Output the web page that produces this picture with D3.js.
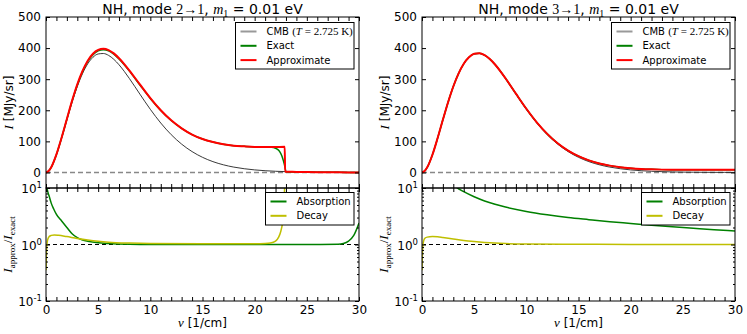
<!DOCTYPE html>
<html>
<head>
<meta charset="utf-8">
<script src="https://cdn.jsdelivr.net/npm/d3@7"></script>
<style>
  body { margin: 0; background: #fff; }
  svg { display: block; font-family: "DejaVu Sans", sans-serif; }
  .math { font-family: "Liberation Serif", serif; }
</style>
</head>
<body>
<svg id="chart" width="747" height="334"></svg>
<script>
// ---- data ----
const xTicks = [0, 5, 10, 15, 20, 25, 30];
const iTicks = [0, 100, 200, 300, 400, 500];
const ratioTicks = [0.1, 1, 10];

// CMB blackbody (MJy/sr) vs nu (1/cm), same in both panels
const nuCmb = [0, 0.25, 0.5, 1, 1.5, 2, 2.5, 3, 3.5, 4, 4.5, 5, 5.5, 6, 6.5, 7, 7.5, 8, 9, 10, 11, 12, 13, 14, 15, 16, 17, 18, 19, 20, 21, 22, 23, 24, 25, 26, 27, 28, 29, 30];
const cmb = [0, 4.4, 16.4, 57.0, 110.8, 169.3, 226, 276.5, 318, 349.5, 370.4, 381.1, 382.6, 376.5, 363.9, 346.3, 325.2, 301.8, 251.9, 203.0, 159.0, 121.6, 91.1, 67.1, 48.7, 34.8, 24.6, 17.2, 12.0, 8.2, 5.6, 3.8, 2.6, 1.7, 1.15, 0.76, 0.5, 0.33, 0.22, 0.14];

// left panel: mode 2 -> 1
const nuApproxL = [0, 0.25, 0.5, 1, 1.5, 2, 2.5, 3, 3.5, 4, 4.5, 5, 5.5, 6, 6.5, 7, 7.5, 8, 9, 10, 11, 12, 13, 14, 15, 16, 17, 18, 19, 20, 21, 22, 22.88, 22.92, 23, 24, 25, 26, 27, 28, 29, 30];
const approxL = [0, 4.5, 16.7, 58, 112.5, 172, 231, 283.5, 326.5, 359.5, 381.9, 394, 397.6, 393.5, 382.9, 367.3, 348.7, 327.8, 283, 239, 200, 167.6, 142, 122, 107.6, 97.8, 90.6, 86.2, 84, 82.2, 81.6, 81.8, 82.6, 2.6, 2.6, 1.7, 1.15, 0.76, 0.5, 0.33, 0.22, 0.14];
const nuExactL = [0, 0.25, 0.5, 1, 1.5, 2, 2.5, 3, 3.5, 4, 4.5, 5, 5.5, 6, 6.5, 7, 7.5, 8, 9, 10, 11, 12, 13, 14, 15, 16, 17, 18, 19, 20, 21, 21.6, 22, 22.2, 22.4, 22.6, 22.75, 22.9, 23, 24, 25, 26, 27, 28, 29, 30];
const exactL = [0, 4.5, 16.7, 58, 112, 171, 229.5, 281.5, 324, 357, 379, 391.5, 395, 391, 380.5, 365, 346.5, 326, 281.5, 238, 199.5, 167.2, 141.8, 121.9, 107.6, 97.8, 90.6, 86.2, 84, 82.2, 81.6, 81, 78, 74, 67, 54, 38, 18, 2.6, 1.7, 1.15, 0.76, 0.5, 0.33, 0.22, 0.14];

const nuAbsL = [0.05, 0.1, 0.3, 0.5, 0.75, 1, 1.5, 2, 2.5, 3, 3.5, 4, 5, 6, 8, 10, 15, 20, 25, 28, 28.5, 29, 29.5, 30];
const absL = [14, 10, 7.2, 5.4, 4.2, 3.4, 2.6, 2.0, 1.55, 1.32, 1.2, 1.14, 1.07, 1.04, 1.01, 1.0, 1.0, 1.0, 1.0, 1.01, 1.04, 1.15, 1.45, 2.4];
const nuDecL = [0, 0.05, 0.15, 0.3, 0.5, 0.8, 1.2, 2, 3, 4, 5, 6, 8, 10, 15, 20, 21, 21.5, 22, 22.3, 22.5, 22.65, 22.75, 22.82, 22.88];
const decL = [0.35, 0.8, 1.2, 1.38, 1.45, 1.48, 1.46, 1.38, 1.28, 1.2, 1.14, 1.1, 1.06, 1.04, 1.03, 1.03, 1.04, 1.06, 1.15, 1.35, 1.7, 2.3, 3.5, 6, 11];

// right panel: mode 3 -> 1
const nuApproxR = nuCmb;
const approxR = [0, 4.4, 16.4, 57.0, 110.8, 169.3, 226, 276.5, 318, 349.5, 370.4, 381.6, 383.2, 377.2, 364.7, 347.2, 326.2, 303.0, 253.4, 204.8, 161.1, 124.1, 93.9, 70.3, 52.3, 38.8, 29.0, 22.0, 17.0, 13.7, 11.4, 10.0, 9.1, 8.6, 8.4, 8.3, 8.3, 8.4, 8.6, 8.8];
const exactR = [0, 4.4, 16.4, 57.0, 110.8, 169.3, 226, 276.5, 318, 349.5, 370.4, 381.6, 383.2, 377.2, 364.7, 347.2, 326.2, 303.0, 253.4, 204.8, 161.1, 124.1, 93.9, 70.3, 52.3, 38.8, 29.0, 22.0, 17.0, 13.7, 11.4, 10.0, 9.1, 8.6, 8.4, 8.3, 8.3, 8.4, 8.6, 8.8];

const nuAbsR = [3.0, 3.3, 4, 5, 6, 7, 8, 10, 12, 14, 16, 18, 20, 22, 24, 26, 28, 30];
const absR = [11.5, 10.3, 8.6, 7.0, 5.9, 5.15, 4.6, 3.85, 3.36, 3.0, 2.75, 2.53, 2.36, 2.2, 2.06, 1.94, 1.83, 1.73];
const nuDecR = [0, 0.05, 0.15, 0.3, 0.5, 1, 1.5, 2, 3, 4, 5, 6, 7, 8, 10, 15, 20, 25, 30];
const decR = [0.35, 0.8, 1.15, 1.3, 1.35, 1.38, 1.37, 1.33, 1.25, 1.18, 1.13, 1.09, 1.06, 1.04, 1.02, 1.01, 1.0, 1.0, 1.0];

const zip = (a, b) => a.map((v, i) => [v, b[i]]);

// ---- layout ----
const svg = d3.select("#chart");
const topY = 17, midY = 188, botY = 301;

function drawPanel(p, idx) {
  const x = d3.scaleLinear().domain([0, 30]).range([p.x0, p.x1]);
  const yI = d3.scaleLinear().domain([-50, 500]).range([midY, topY]);
  const yR = d3.scaleLog().domain([0.1, 10]).range([botY, midY]);
  const g = svg.append("g");

  const defs = svg.append("defs");
  defs.append("clipPath").attr("id", "clipT" + idx)
    .append("rect").attr("x", p.x0).attr("y", topY).attr("width", p.x1 - p.x0).attr("height", midY - topY);
  defs.append("clipPath").attr("id", "clipB" + idx)
    .append("rect").attr("x", p.x0).attr("y", midY).attr("width", p.x1 - p.x0).attr("height", botY - midY);

  // ---- top panel ----
  const lineI = d3.line().x(d => x(d[0])).y(d => yI(d[1])).curve(d3.curveMonotoneX);
  const gt = g.append("g").attr("clip-path", `url(#clipT${idx})`);
  gt.append("line")
    .attr("x1", p.x0).attr("x2", p.x1).attr("y1", yI(0)).attr("y2", yI(0))
    .attr("stroke", "#888").attr("stroke-width", 1.5).attr("stroke-dasharray", "5,3");
  gt.append("path").attr("d", lineI(zip(nuCmb, cmb)))
    .attr("fill", "none").attr("stroke", "#222").attr("stroke-width", 0.9);
  gt.append("path").attr("d", lineI(zip(p.nuExact, p.exact)))
    .attr("fill", "none").attr("stroke", "#008000").attr("stroke-width", 1.5);
  gt.append("path").attr("d", lineI(zip(p.nuApprox, p.approx)))
    .attr("fill", "none").attr("stroke", "#ff0000").attr("stroke-width", 2);

  // ---- bottom panel ----
  const lineR = d3.line().x(d => x(d[0])).y(d => yR(d[1])).curve(d3.curveMonotoneX);
  const gb = g.append("g").attr("clip-path", `url(#clipB${idx})`);
  gb.append("line")
    .attr("x1", p.x0).attr("x2", p.x1).attr("y1", yR(1)).attr("y2", yR(1))
    .attr("stroke", "#000").attr("stroke-width", 1).attr("stroke-dasharray", "4,3");
  gb.append("path").attr("d", lineR(zip(p.nuAbs, p.abs)))
    .attr("fill", "none").attr("stroke", "#008000").attr("stroke-width", 1.5);
  gb.append("path").attr("d", lineR(zip(p.nuDec, p.dec)))
    .attr("fill", "none").attr("stroke", "#bfbf00").attr("stroke-width", 1.5);

  // ---- axes (ticks inside, all four sides) ----
  const every1 = d3.range(0, 31);
  const noLab = () => "";
  const ax = (gen, tx, ty) => g.append("g").attr("transform", `translate(${tx},${ty})`).call(gen)
    .call(s => s.select(".domain").remove())
    .call(s => s.selectAll("text").attr("font-size", 12).attr("fill", "#000").attr("font-family", "DejaVu Sans"));

  ax(d3.axisTop(x).tickValues(every1).tickSize(-4).tickFormat(noLab), 0, topY);
  ax(d3.axisBottom(x).tickValues(every1).tickSize(-4).tickFormat(noLab), 0, midY);
  ax(d3.axisLeft(yI).tickValues(iTicks).tickSize(-4).tickPadding(5).tickFormat(d3.format("d")), p.x0, 0);
  ax(d3.axisRight(yI).tickValues(iTicks).tickSize(-4).tickFormat(noLab), p.x1, 0);

  ax(d3.axisTop(x).tickValues(every1).tickSize(-4).tickFormat(noLab), 0, midY);
  ax(d3.axisBottom(x).tickValues(every1).tickSize(-4).tickPadding(4)
       .tickFormat(d => xTicks.includes(d) ? d : ""), 0, botY);
  const minor = [];
  [0.1, 1].forEach(b => d3.range(2, 10).forEach(k => minor.push(b * k)));
  ax(d3.axisLeft(yR).tickValues(ratioTicks).tickSize(-4).tickFormat(noLab), p.x0, 0);
  ax(d3.axisLeft(yR).tickValues(minor).tickSize(-2).tickFormat(noLab), p.x0, 0);
  ax(d3.axisRight(yR).tickValues(ratioTicks).tickSize(-4).tickFormat(noLab), p.x1, 0);
  ax(d3.axisRight(yR).tickValues(minor).tickSize(-2).tickFormat(noLab), p.x1, 0);

  // log tick labels 10^n
  ratioTicks.forEach(v => {
    const t = g.append("text").attr("x", p.x0 - 4).attr("y", yR(v) + 5)
      .attr("text-anchor", "end").attr("font-size", 12);
    t.append("tspan").text("10");
    t.append("tspan").attr("dy", -5).attr("font-size", 8.5).text(Math.round(Math.log10(v)));
  });

  // spines
  [[topY, midY], [midY, botY]].forEach(([a, b]) => {
    g.append("rect").attr("x", p.x0).attr("y", a).attr("width", p.x1 - p.x0).attr("height", b - a)
      .attr("fill", "none").attr("stroke", "#000").attr("stroke-width", 1);
  });

  // title
  const cx = (p.x0 + p.x1) / 2;
  const tt = g.append("text").attr("x", cx).attr("y", 14).attr("text-anchor", "middle").attr("font-size", 14);
  tt.append("tspan").text("NH, mode ");
  tt.append("tspan").attr("class", "math").text(p.mode);
  tt.append("tspan").text(", ");
  tt.append("tspan").attr("class", "math").attr("font-style", "italic").text("m");
  tt.append("tspan").attr("class", "math").attr("font-size", 10).attr("dy", 3).text("1");
  tt.append("tspan").attr("dy", -3).text(" = 0.01 eV");

  // axis labels
  const yl = g.append("text").attr("transform", `translate(${p.x0 - 33},${(topY + midY) / 2}) rotate(-90)`)
    .attr("text-anchor", "middle").attr("font-size", 12);
  yl.append("tspan").attr("class", "math").attr("font-style", "italic").attr("font-size", 13).text("I");
  yl.append("tspan").text(" [MJy/sr]");

  const yl2 = g.append("text").attr("transform", `translate(${p.x0 - 34},${(midY + botY) / 2}) rotate(-90)`)
    .attr("text-anchor", "middle").attr("class", "math").attr("font-size", 13);
  yl2.append("tspan").attr("font-style", "italic").text("I");
  yl2.append("tspan").attr("font-size", 9).attr("dy", 3).text("approx");
  yl2.append("tspan").attr("dy", -3).text("/");
  yl2.append("tspan").attr("font-style", "italic").text("I");
  yl2.append("tspan").attr("font-size", 9).attr("dy", 3).text("exact");

  const xl = g.append("text").attr("x", cx).attr("y", 327).attr("text-anchor", "middle").attr("font-size", 12);
  xl.append("tspan").attr("class", "math").attr("font-style", "italic").attr("font-size", 13).text("ν");
  xl.append("tspan").text(" [1/cm]");

  // legends
  const legend = (lx, ly, lw, lh, items) => {
    const lg = g.append("g");
    lg.append("rect").attr("x", lx).attr("y", ly).attr("width", lw).attr("height", lh)
      .attr("fill", "#fff").attr("stroke", "#000").attr("stroke-width", 1);
    items.forEach((it, i) => {
      const yy = ly + 9 + i * 14.3;
      lg.append("line").attr("x1", lx + 5).attr("x2", lx + 21).attr("y1", yy).attr("y2", yy)
        .attr("stroke", it.color).attr("stroke-width", 2);
      const t = lg.append("text").attr("x", lx + 31).attr("y", yy + 3.6).attr("font-size", 10);
      it.text(t);
    });
  };
  legend(p.x1 - 123.5, 22.5, 118.5, 46.5, [
    { color: "#999", text: t => {
        t.append("tspan").text("CMB ");
        t.append("tspan").attr("class", "math").attr("font-size", 11).text("(");
        t.append("tspan").attr("class", "math").attr("font-style", "italic").attr("font-size", 11).text("T");
        t.append("tspan").attr("class", "math").attr("font-size", 11).text(" = 2.725 K)");
      } },
    { color: "#008000", text: t => t.text("Exact") },
    { color: "#ff0000", text: t => t.text("Approximate") }
  ]);
  legend(p.x1 - 93.5, 192.5, 88.5, 32.5, [
    { color: "#008000", text: t => t.text("Absorption") },
    { color: "#bfbf00", text: t => t.text("Decay") }
  ]);
}

drawPanel({
  x0: 46, x1: 359, mode: "2→1",
  nuApprox: nuApproxL, approx: approxL, nuExact: nuExactL, exact: exactL,
  nuAbs: nuAbsL, abs: absL, nuDec: nuDecL, dec: decL
}, 0);
drawPanel({
  x0: 422, x1: 735, mode: "3→1",
  nuApprox: nuApproxR, approx: approxR, nuExact: nuApproxR, exact: exactR,
  nuAbs: nuAbsR, abs: absR, nuDec: nuDecR, dec: decR
}, 1);
</script>
</body>
</html>
